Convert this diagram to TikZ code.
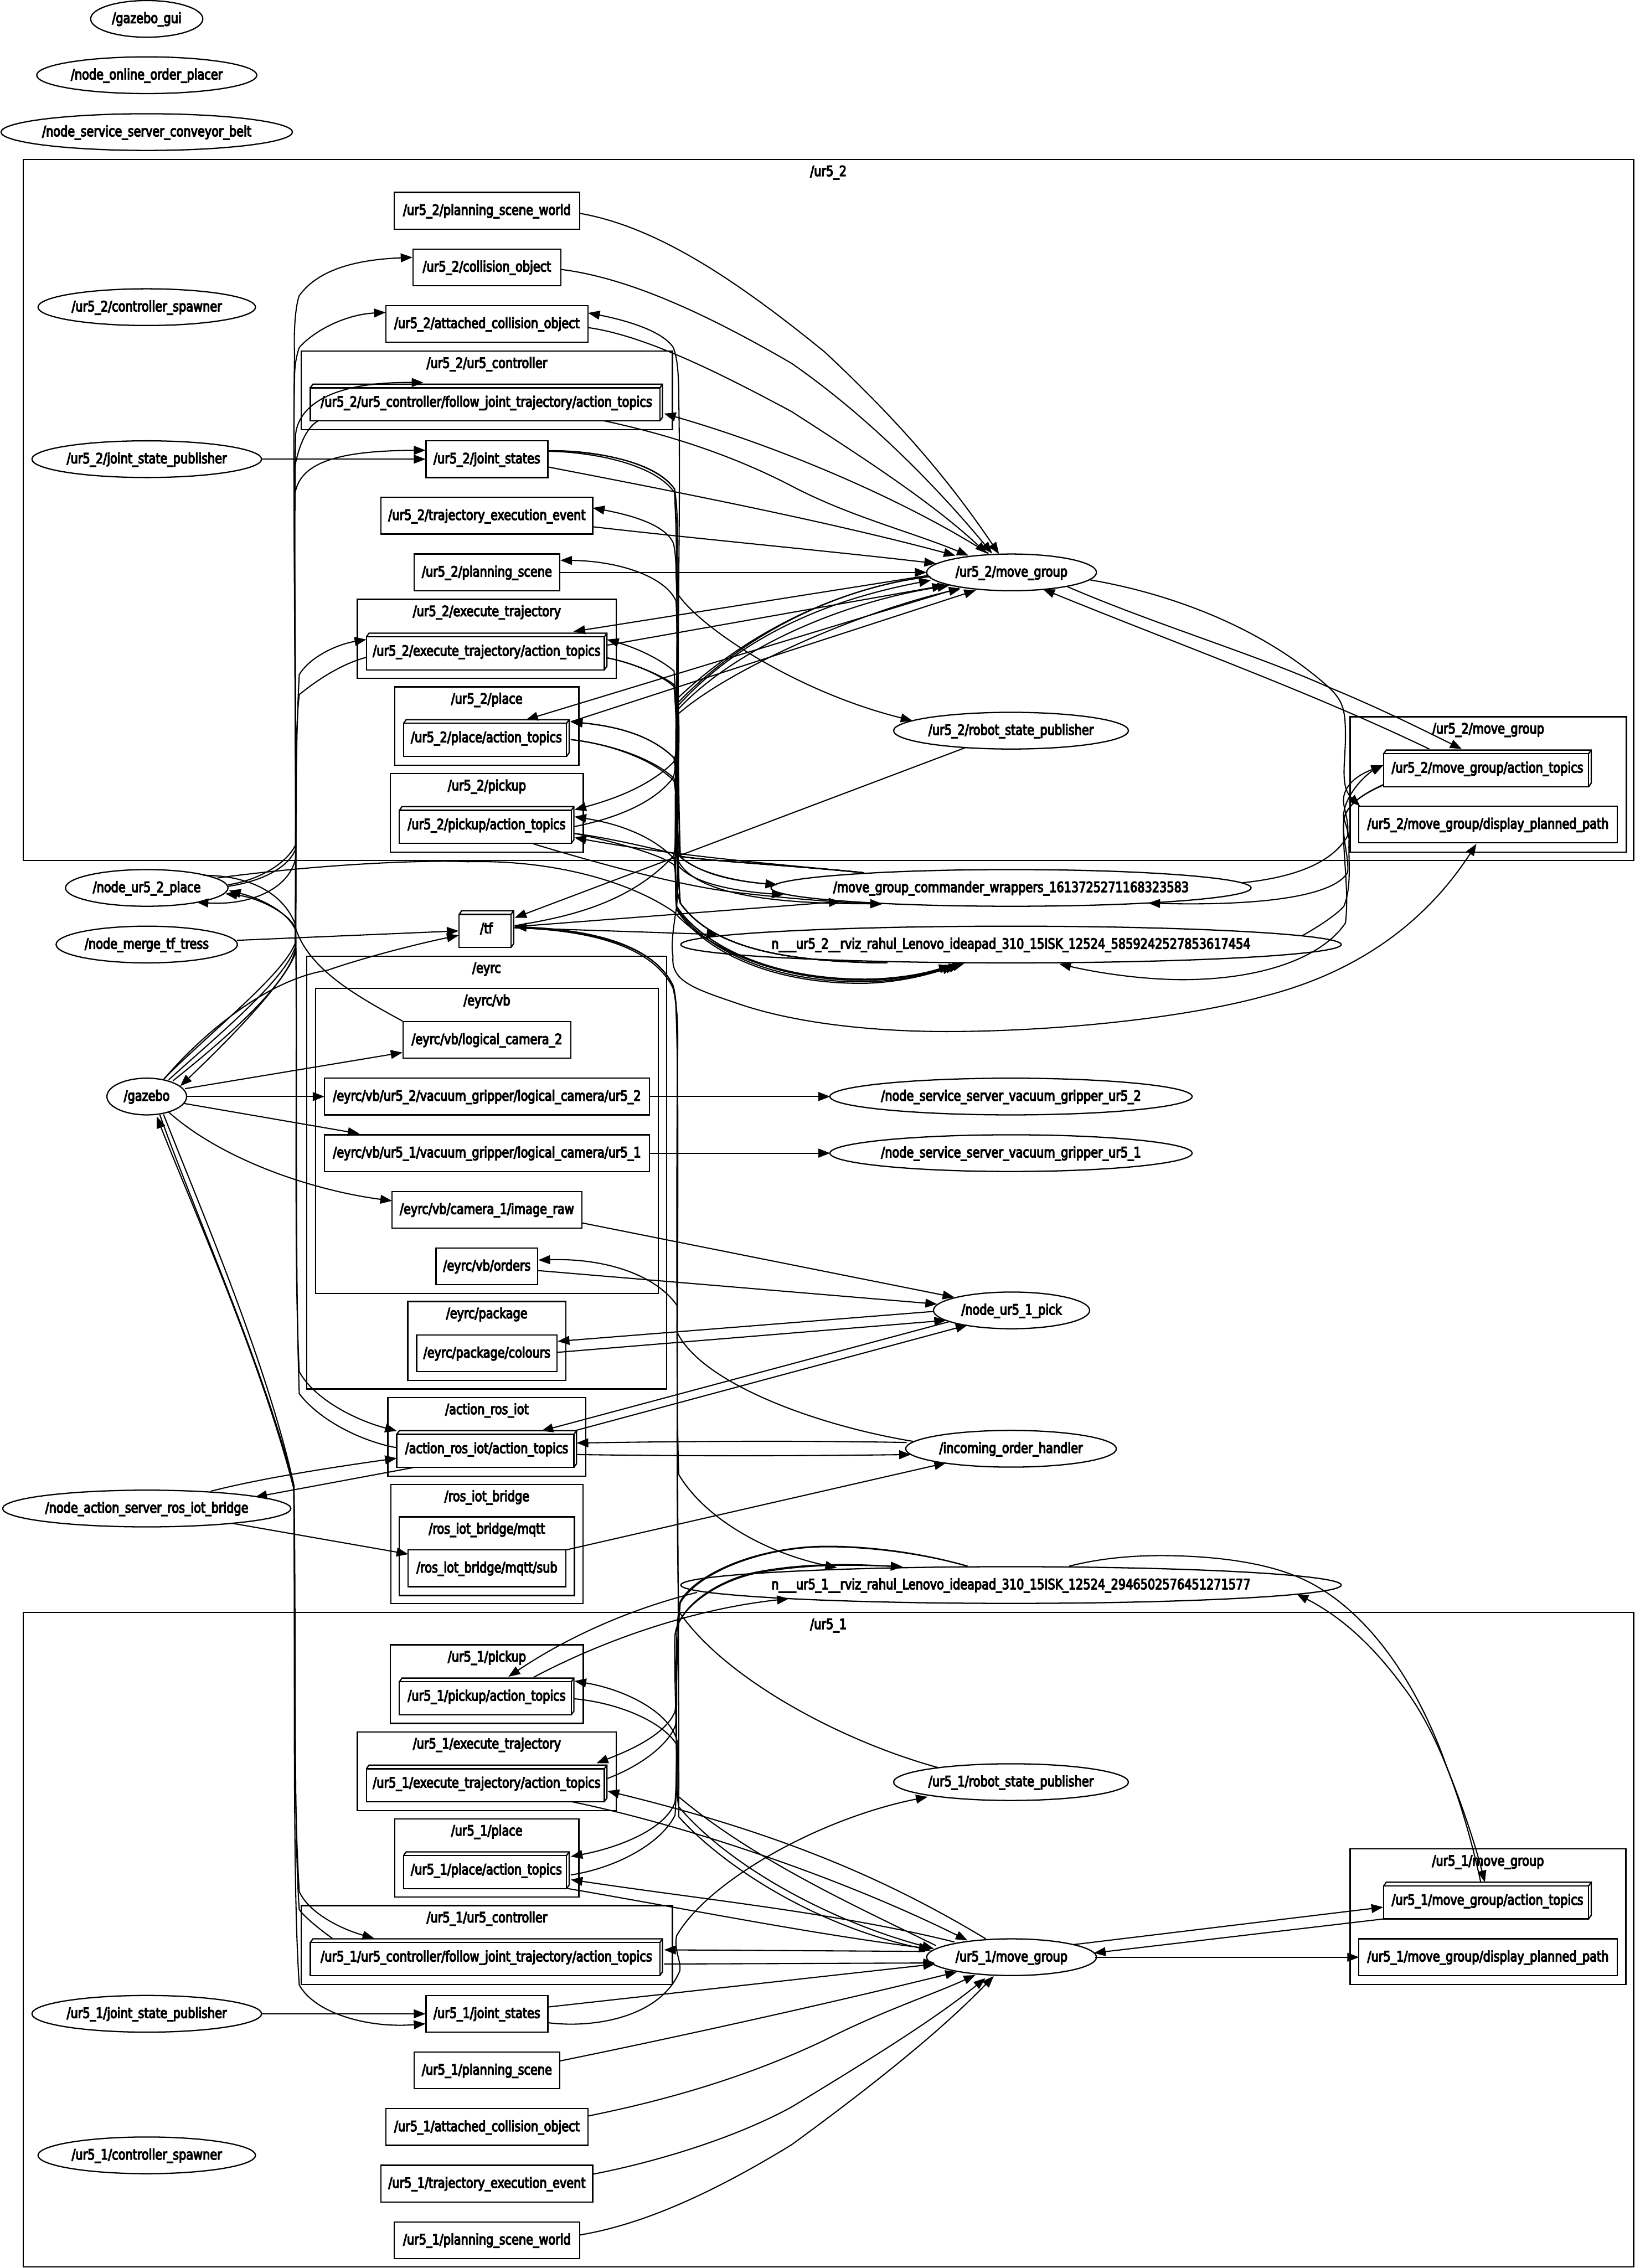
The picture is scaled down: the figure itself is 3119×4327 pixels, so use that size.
\documentclass[tikz,border=0pt]{standalone}
\usepackage{fontspec}
\setmainfont[FakeStretch=0.81,FakeBold=5]{DejaVu Sans}
\usetikzlibrary{arrows.meta,shapes.geometric}
\tikzset{
 x=0.25pt,y=-0.25pt,
 nl/.style={draw,line width=0.6pt},
 lbl/.style={inner sep=0pt,outer sep=0pt,font=\fontsize{6.8}{8}\selectfont,text height=6pt,text depth=2pt},
 elp/.style={lbl,nl,ellipse,minimum height=17.5pt},
 rct/.style={lbl,nl,rectangle,minimum height=17.5pt},
 bxn/.style={lbl,rectangle,minimum height=17.5pt},
 clu/.style={nl,rectangle,inner sep=0pt,outer sep=0pt},
 edg/.style={line width=0.55pt,-{Triangle[length=5.6pt,width=4.2pt]}}
}
\newcommand\RegN[3]{\expandafter\gdef\csname cX#1\endcsname{#2}\expandafter\gdef\csname cY#1\endcsname{#3}}
\newcommand\El[5]{\RegN{#1}{#2}{#3}\node[elp,minimum width={2*#4*0.25pt}] (#1) at (#2,#3) {\makebox[0pt]{#5}};}
\newcommand\Rc[5]{\RegN{#1}{#2}{#3}\node[rct,minimum width={#4*0.25pt}] (#1) at (#2,#3) {\makebox[0pt]{#5}};}
\newcommand\Bx[5]{\RegN{#1}{#2}{#3}\node[bxn,minimum width={#4*0.25pt}] (#1) at (#2,#3) {\makebox[0pt]{#5}};
 \draw[nl] ([shift={(0,7)}]#1.north west) rectangle ([shift={(-5,0)}]#1.south east);
 \draw[nl] ([shift={(0,7)}]#1.north west) -- ([shift={(5,0)}]#1.north west) -- (#1.north east) -- ([shift={(0,-7)}]#1.south east) -- ([shift={(-5,0)}]#1.south east);
 \draw[nl] (#1.north east) -- ([shift={(-5,7)}]#1.north east);}
\newcommand\Cl[6]{\node[clu,minimum width={(#4-#2)*0.25pt},minimum height={(#5-#3)*0.25pt}] (#1) at ({(#2+#4)/2},{(#3+#5)/2}) {};
 \node[lbl] (#1t) at ({(#2+#4)/2},{#3+24}) {\makebox[0pt]{#6}};}
\newcommand\Ed[7]{\begingroup
 \edef\ax{\csname cX#1\endcsname}\edef\ay{\csname cY#1\endcsname}%
 \edef\bx{\csname cX#5\endcsname}\edef\by{\csname cY#5\endcsname}%
 \draw[edg] ([shift={(#2-\ax,#3-\ay)}]#1.center) #4 ([shift={(#6-\bx,#7-\by)}]#5.center);\endgroup}
\begin{document}
\begin{tikzpicture}
\useasboundingbox (0,0) rectangle (3119,4327);
% clusters
\Cl{cb}{44}{304}{3117}{1642}{/ur5\_2}
\Cl{cbctl}{575}{670}{1283}{820}{/ur5\_2/ur5\_controller}
\Cl{cbex}{682}{1143.5}{1176}{1294}{/ur5\_2/execute\_trajectory}
\Cl{cbpl}{753}{1310.5}{1104.5}{1460}{/ur5\_2/place}
\Cl{cbpk}{745}{1476}{1113}{1626}{/ur5\_2/pickup}
\Cl{cbmg}{2576}{1367.5}{3103}{1626}{/ur5\_2/move\_group}
\Cl{ceyrc}{585}{1824}{1272}{2650}{/eyrc}
\Cl{cvb}{602}{1886}{1256}{2468}{/eyrc/vb}
\Cl{cpkg}{778}{2483}{1079.5}{2633.5}{/eyrc/package}
\Cl{cact}{740}{2666}{1118}{2816.5}{/action\_ros\_iot}
\Cl{crib}{745.5}{2832}{1112.5}{3059}{/ros\_iot\_bridge}
\Cl{cmq}{762}{2894}{1096}{3044}{/ros\_iot\_bridge/mqtt}
\Cl{ca}{44}{3076}{3117}{4325}{/ur5\_1}
\Cl{capk}{745}{3138}{1113}{3288}{/ur5\_1/pickup}
\Cl{caex}{682}{3304}{1176}{3454}{/ur5\_1/execute\_trajectory}
\Cl{capl}{753}{3470}{1104.5}{3619.5}{/ur5\_1/place}
\Cl{cactl}{575}{3635.5}{1283}{3786}{/ur5\_1/ur5\_controller}
\Cl{camg}{2576}{3527.5}{3102}{3786}{/ur5\_1/move\_group}
% left column
\El{gui}{280}{36}{107}{/gazebo\_gui}
\El{placer}{280}{143.5}{210}{/node\_online\_order\_placer}
\El{belt}{280}{252}{278}{/node\_service\_server\_conveyor\_belt}
\El{spawnb}{280}{586}{207.5}{/ur5\_2/controller\_spawner}
\El{jspb}{280}{876}{219}{/ur5\_2/joint\_state\_publisher}
\El{place}{280}{1694}{155}{/node\_ur5\_2\_place}
\El{merge}{280}{1802}{173}{/node\_merge\_tf\_tress}
\El{gz}{280}{2092}{76}{/gazebo}
\El{server}{280}{2878}{275}{/node\_action\_server\_ros\_iot\_bridge}
\El{jspa}{280}{3842}{219}{/ur5\_1/joint\_state\_publisher}
\El{spawna}{280}{4112}{207.5}{/ur5\_1/controller\_spawner}
% topics ur5_2
\Rc{pswb}{929}{402}{354}{/ur5\_2/planning\_scene\_world}
\Rc{colb}{929}{510}{282.5}{/ur5\_2/collision\_object}
\Rc{attb}{929}{618}{386}{/ur5\_2/attached\_collision\_object}
\Bx{folb}{928}{768}{672}{/ur5\_2/ur5\_controller/follow\_joint\_trajectory/action\_topics}
\Rc{jsb}{929}{876}{232.5}{/ur5\_2/joint\_states}
\Rc{teeb}{929}{984}{404}{/ur5\_2/trajectory\_execution\_event}
\Rc{psb}{929}{1092}{278}{/ur5\_2/planning\_scene}
\Bx{exb}{928.5}{1243}{459}{/ur5\_2/execute\_trajectory/action\_topics}
\Bx{plb}{928}{1408}{316}{/ur5\_2/place/action\_topics}
\Bx{pkb}{928.5}{1574}{333}{/ur5\_2/pickup/action\_topics}
\Bx{tf}{928}{1772.5}{104}{/tf}
% eyrc
\Rc{lcc}{929}{1984}{320}{/eyrc/vb/logical\_camera\_2}
\Rc{lub}{929}{2092}{620}{/eyrc/vb/ur5\_2/vacuum\_gripper/logical\_camera/ur5\_2}
\Rc{lua}{929}{2200}{620}{/eyrc/vb/ur5\_1/vacuum\_gripper/logical\_camera/ur5\_1}
\Rc{cam}{929}{2308}{362}{/eyrc/vb/camera\_1/image\_raw}
\Rc{orders}{929}{2416}{194}{/eyrc/vb/orders}
\Rc{colours}{929}{2582}{268}{/eyrc/package/colours}
\Bx{act}{928.5}{2764.5}{343}{/action\_ros\_iot/action\_topics}
\Rc{sub}{929}{2992}{301}{/ros\_iot\_bridge/mqtt/sub}
% topics ur5_1
\Bx{pka}{928.5}{3236.5}{333}{/ur5\_1/pickup/action\_topics}
\Bx{exa}{928.5}{3402.5}{459}{/ur5\_1/execute\_trajectory/action\_topics}
\Bx{pla}{928}{3568}{316}{/ur5\_1/place/action\_topics}
\Bx{fola}{928}{3734}{672}{/ur5\_1/ur5\_controller/follow\_joint\_trajectory/action\_topics}
\Rc{jsa}{929}{3842}{232.5}{/ur5\_1/joint\_states}
\Rc{psa}{929}{3950}{278}{/ur5\_1/planning\_scene}
\Rc{atta}{929}{4058}{386}{/ur5\_1/attached\_collision\_object}
\Rc{teea}{929}{4166}{404}{/ur5\_1/trajectory\_execution\_event}
\Rc{pswa}{929}{4274}{354}{/ur5\_1/planning\_scene\_world}
% right nodes
\El{mgb}{1930}{1092}{162}{/ur5\_2/move\_group}
\El{rspb}{1929}{1394}{224}{/ur5\_2/robot\_state\_publisher}
\El{wrap}{1929}{1694}{458}{/move\_group\_commander\_wrappers\_1613725271168323583}
\El{rvizb}{1929}{1802}{630}{n\_\_\_ur5\_2\_\_rviz\_rahul\_Lenovo\_ideapad\_310\_15ISK\_12524\_5859242527853617454}
\El{vacb}{1929}{2092}{345.5}{/node\_service\_server\_vacuum\_gripper\_ur5\_2}
\El{vaca}{1929}{2200}{345.5}{/node\_service\_server\_vacuum\_gripper\_ur5\_1}
\El{pick}{1930}{2500}{149}{/node\_ur5\_1\_pick}
\El{handler}{1929}{2764}{201}{/incoming\_order\_handler}
\El{rviza}{1929}{3024}{630}{n\_\_\_ur5\_1\_\_rviz\_rahul\_Lenovo\_ideapad\_310\_15ISK\_12524\_2946502576451271577}
\El{rspa}{1929}{3400}{224}{/ur5\_1/robot\_state\_publisher}
\El{mga}{1930}{3734}{162}{/ur5\_1/move\_group}
\Bx{mgab}{2838}{1466}{396}{/ur5\_2/move\_group/action\_topics}
\Rc{dppb}{2839}{1573}{494}{/ur5\_2/move\_group/display\_planned\_path}
\Bx{mgaa}{2838}{3626}{396}{/ur5\_1/move\_group/action\_topics}
\Rc{dppa}{2839}{3734}{493}{/ur5\_1/move\_group/display\_planned\_path}
% --- edges into mg ur5_2
\Ed{pswb}{1106}{407}{.. controls (1250,432) and (1400,530) .. (1574,672) .. controls (1700,790) and (1800,900) ..}{mgb}{1906}{1057}
\Ed{colb}{1070}{514}{.. controls (1200,530) and (1350,600) .. (1510,693) .. controls (1650,790) and (1780,920) ..}{mgb}{1893}{1056}
\Ed{attb}{1122}{625}{.. controls (1230,640) and (1370,710) .. (1510,785) .. controls (1650,875) and (1780,960) ..}{mgb}{1883}{1056}
\Ed{folb}{1153}{803}{.. controls (1280,830) and (1400,870) .. (1510,927) .. controls (1620,985) and (1740,1015) ..}{mgb}{1848}{1060}
\Ed{mgb}{1886}{1056}{.. controls (1720,950) and (1480,850) ..}{folb}{1267}{789}
\Ed{jsb}{1046}{891}{.. controls (1300,940) and (1580,995) ..}{mgb}{1823}{1060}
\Ed{teeb}{1131}{1005}{.. controls (1350,1030) and (1570,1050) ..}{mgb}{1786}{1075}
\Ed{psb}{1068}{1092}{--}{mgb}{1768}{1092}
\Ed{mgb}{1770}{1098}{--}{exb}{1094}{1205}
\Ed{exb}{1158}{1231}{--}{mgb}{1801}{1117}
\Ed{mgb}{1830}{1122}{--}{plb}{1004}{1373}
\Ed{plb}{1089}{1377}{--}{mgb}{1862}{1126}
% fan arcs
\Ed{mgb}{1775}{1100}{.. controls (1600,1120) and (1420,1210) .. (1294,1340) .. controls (1285,1390) and (1295,1420) .. (1286,1453) .. controls (1240,1500) and (1170,1525) ..}{pkb}{1096}{1545}
\Ed{pkb}{1096}{1577}{.. controls (1180,1560) and (1250,1530) .. (1285,1483) .. controls (1295,1440) and (1285,1390) .. (1294,1346) .. controls (1400,1230) and (1550,1150) ..}{mgb}{1776}{1107}
\Ed{wrap}{1648}{1665}{.. controls (1500,1650) and (1380,1645) .. (1298,1634) .. controls (1285,1560) and (1300,1430) .. (1294,1353) .. controls (1400,1240) and (1600,1150) ..}{mgb}{1811}{1117}
\Ed{tf}{982}{1766}{.. controls (1080,1750) and (1200,1725) .. (1285,1633) .. controls (1300,1560) and (1285,1450) .. (1294,1362) .. controls (1400,1270) and (1650,1165) ..}{mgb}{1833}{1123}
\Ed{mgb}{1775}{1100}{.. controls (1600,1120) and (1420,1210) .. (1291,1334) .. controls (1285,1500) and (1298,1650) .. (1291,1729) .. controls (1285,1770) and (1280,1800) .. (1284,1825) .. controls (1280,1870) and (1320,1885) .. (1400,1912) .. controls (1520,1955) and (1680,1968) .. (1805,1968) .. controls (2000,1968) and (2250,1945) .. (2414,1900) .. controls (2590,1855) and (2720,1760) ..}{dppb}{2817}{1610}
% wrappers / rviz to topics
\Ed{wrap}{1648}{1665}{.. controls (1500,1650) and (1300,1635) ..}{pkb}{1096}{1598}
\Ed{wrap}{1648}{1665}{.. controls (1500,1650) and (1380,1645) .. (1298,1634) .. controls (1288,1300) and (1300,1000) .. (1295,759) .. controls (1295,710) and (1292,680) .. (1284,662) .. controls (1262,630) and (1190,610) ..}{attb}{1122}{597}
\Ed{wrap}{1648}{1665}{.. controls (1500,1650) and (1380,1645) .. (1298,1634) .. controls (1288,1400) and (1295,1200) .. (1290,1100) .. controls (1290,1070) and (1288,1050) .. (1285,1037) .. controls (1270,1000) and (1200,982) ..}{teeb}{1131}{969}
\Ed{rvizb}{1693}{1837}{.. controls (1500,1835) and (1360,1810) .. (1298,1723) .. controls (1288,1600) and (1296,1300) .. (1290,1147) .. controls (1270,1100) and (1180,1070) ..}{psb}{1069}{1069}
\Ed{rvizb}{1693}{1837}{.. controls (1500,1835) and (1360,1810) .. (1298,1723) .. controls (1290,1700) and (1290,1670) .. (1286,1638) .. controls (1240,1590) and (1170,1570) ..}{pkb}{1096}{1558}
\Ed{rvizb}{1693}{1837}{.. controls (1500,1835) and (1360,1810) .. (1298,1723) .. controls (1288,1600) and (1296,1400) .. (1286,1280) .. controls (1250,1250) and (1200,1232) ..}{exb}{1158}{1220}
\Ed{rvizb}{1693}{1837}{.. controls (1500,1835) and (1360,1810) .. (1298,1723) .. controls (1288,1620) and (1296,1520) .. (1286,1446) .. controls (1240,1400) and (1170,1385) ..}{plb}{1089}{1377}
\Ed{wrap}{1648}{1665}{.. controls (1500,1650) and (1380,1645) .. (1298,1634) .. controls (1288,1570) and (1296,1510) .. (1286,1446) .. controls (1240,1400) and (1170,1385) ..}{plb}{1089}{1377}
% topics to wrappers / rviz
\Ed{jsb}{1046}{860}{.. controls (1130,858) and (1250,880) .. (1287,933) .. controls (1298,1000) and (1288,1080) .. (1295,1136) .. controls (1340,1200) and (1520,1320) ..}{rspb}{1741}{1375}
\Ed{jsb}{1046}{860}{.. controls (1130,860) and (1250,878) .. (1287,933) .. controls (1298,1100) and (1285,1500) .. (1293,1640) .. controls (1320,1700) and (1450,1725) ..}{wrap}{1683}{1724}
\Ed{jsb}{1046}{861}{.. controls (1130,862) and (1250,885) .. (1287,940) .. controls (1300,1200) and (1282,1500) .. (1291,1729) .. controls (1330,1790) and (1450,1870) .. (1650,1870) .. controls (1720,1870) and (1780,1855) ..}{rvizb}{1833}{1841}
\Ed{exb}{1158}{1255}{.. controls (1210,1265) and (1265,1290) .. (1286,1306) .. controls (1298,1400) and (1288,1550) .. (1293,1630) .. controls (1320,1660) and (1390,1680) ..}{wrap}{1483}{1688}
\Ed{exb}{1158}{1255}{.. controls (1210,1265) and (1265,1290) .. (1286,1310) .. controls (1298,1450) and (1282,1600) .. (1291,1732) .. controls (1330,1795) and (1450,1875) .. (1650,1873) .. controls (1720,1872) and (1775,1858) ..}{rvizb}{1826}{1842}
\Ed{plb}{1089}{1411}{.. controls (1170,1420) and (1250,1450) .. (1286,1485) .. controls (1298,1540) and (1288,1600) .. (1293,1650) .. controls (1320,1685) and (1400,1700) ..}{wrap}{1495}{1707}
\Ed{plb}{1089}{1411}{.. controls (1170,1420) and (1250,1452) .. (1286,1490) .. controls (1298,1560) and (1284,1650) .. (1291,1735) .. controls (1330,1800) and (1450,1878) .. (1650,1876) .. controls (1720,1874) and (1775,1858) ..}{rvizb}{1820}{1843}
\Ed{pkb}{1096}{1590}{.. controls (1170,1600) and (1250,1620) .. (1293,1630) .. controls (1330,1665) and (1390,1680) ..}{wrap}{1483}{1688}
\Ed{pkb}{1018}{1610}{.. controls (1150,1650) and (1300,1690) .. (1400,1702) .. controls (1480,1712) and (1600,1722) ..}{wrap}{1683}{1725}
\Ed{pkb}{1096}{1590}{.. controls (1170,1605) and (1260,1630) .. (1286,1650) .. controls (1294,1680) and (1286,1710) .. (1291,1729) .. controls (1330,1790) and (1450,1868) .. (1650,1868) .. controls (1720,1868) and (1790,1852) ..}{rvizb}{1840}{1838}
\Ed{place}{415}{1675}{.. controls (600,1650) and (800,1640) .. (893,1644) .. controls (1050,1640) and (1200,1680) .. (1286,1740) .. controls (1340,1800) and (1470,1872) .. (1650,1870) .. controls (1720,1868) and (1770,1855) ..}{rvizb}{1814}{1842}
% tf
\Ed{merge}{452}{1794}{--}{tf}{875}{1776}
\Ed{gz}{312}{2060}{.. controls (370,1990) and (500,1870) .. (625,1851) .. controls (700,1825) and (800,1800) ..}{tf}{875}{1784.5}
\Ed{tf}{982}{1768}{--}{wrap}{1604}{1720}
\Ed{tf}{982}{1770}{--}{rvizb}{1371}{1783}
\Ed{rspb}{1843}{1426}{--}{tf}{982}{1751}
\Ed{rspa}{1789}{3372}{.. controls (1600,3320) and (1380,3200) .. (1295,3074) .. controls (1288,2800) and (1296,2300) .. (1292,2000) .. controls (1290,1930) and (1290,1900) .. (1284,1880) .. controls (1250,1810) and (1150,1775) ..}{tf}{982}{1768}
\Ed{tf}{982}{1770}{.. controls (1150,1775) and (1250,1810) .. (1284,1880) .. controls (1290,1900) and (1292,1930) .. (1292,2000) .. controls (1296,2300) and (1288,2600) .. (1295,2813) .. controls (1340,2890) and (1450,2960) ..}{rviza}{1597}{2991}
\Ed{tf}{982}{1770}{.. controls (1150,1775) and (1250,1815) .. (1284,1885) .. controls (1290,1910) and (1294,1940) .. (1293,2000) .. controls (1288,2400) and (1296,3100) .. (1295,3466) .. controls (1370,3550) and (1540,3670) ..}{mga}{1776}{3721}
% right of ur5_2 move group
\Ed{mgb}{2036}{1119}{.. controls (2200,1190) and (2400,1250) .. (2535,1311) .. controls (2630,1350) and (2710,1390) ..}{mgab}{2789}{1429}
\Ed{mgab}{2727}{1429}{.. controls (2500,1320) and (2250,1230) ..}{mgb}{1990}{1124}
\Ed{mgb}{2078}{1106}{.. controls (2220,1130) and (2400,1190) .. (2535,1311) .. controls (2560,1335) and (2567,1350) .. (2567,1400) .. controls (2568,1450) and (2555,1500) ..}{dppb}{2595}{1538}
\Ed{wrap}{2371}{1684}{.. controls (2460,1675) and (2540,1650) .. (2571,1595) .. controls (2575,1560) and (2560,1540) .. (2564,1519) .. controls (2570,1490) and (2600,1475) ..}{mgab}{2639}{1460}
\Ed{rvizb}{2485}{1785}{.. controls (2520,1765) and (2550,1745) .. (2564,1729) .. controls (2580,1690) and (2572,1640) .. (2574,1601) .. controls (2570,1570) and (2560,1560) .. (2564,1550) .. controls (2570,1510) and (2610,1475) ..}{mgab}{2639}{1460}
\Ed{mgab}{2639}{1498}{.. controls (2600,1515) and (2570,1535) .. (2564,1563) .. controls (2560,1600) and (2575,1640) .. (2571,1665) .. controls (2540,1715) and (2380,1728) ..}{wrap}{2191}{1723}
\Ed{mgab}{2639}{1497}{.. controls (2600,1515) and (2570,1535) .. (2564,1563) .. controls (2560,1620) and (2575,1700) .. (2567,1761) .. controls (2520,1830) and (2400,1870) .. (2250,1869) .. controls (2170,1868) and (2090,1855) ..}{rvizb}{2021}{1839}
% left corridor upper
\Ed{gz}{313}{2058}{.. controls (400,1970) and (540,1860) .. (563,1800) .. controls (566,1500) and (560,1100) .. (564,829) .. controls (570,770) and (640,728) ..}{folb}{808}{730}
\Ed{folb}{607}{803}{.. controls (585,815) and (570,850) .. (562,893) .. controls (560,1100) and (567,1500) .. (563,1820) .. controls (540,1880) and (430,1990) ..}{gz}{344}{2072}
\Ed{gz}{330}{2062}{.. controls (420,1990) and (550,1880) .. (564,1810) .. controls (566,1500) and (560,1100) .. (562,950) .. controls (566,880) and (650,860) ..}{jsb}{812}{859}
\Ed{gz}{322}{2060}{.. controls (410,1980) and (545,1870) .. (564,1805) .. controls (566,1650) and (562,1450) .. (571,1287) .. controls (590,1255) and (640,1230) ..}{exb}{699}{1220}
\Ed{exb}{699}{1254}{.. controls (640,1270) and (590,1310) .. (571,1325) .. controls (562,1400) and (566,1550) .. (564,1638) .. controls (550,1700) and (470,1728) ..}{place}{375}{1721}
\Ed{place}{435}{1688}{.. controls (490,1680) and (545,1650) .. (564,1612) .. controls (566,1300) and (558,900) .. (562,676) .. controls (560,620) and (565,580) .. (571,564) .. controls (610,510) and (690,495) ..}{colb}{787}{491}
\Ed{place}{435}{1691}{.. controls (490,1683) and (548,1660) .. (564,1620) .. controls (566,1300) and (558,900) .. (562,720) .. controls (562,700) and (565,680) .. (571,663) .. controls (600,630) and (660,600) ..}{attb}{736}{596}
\Ed{place}{388}{1670}{.. controls (470,1670) and (540,1700) .. (564,1765) .. controls (568,2000) and (560,2400) .. (571,2617) .. controls (600,2670) and (680,2710) ..}{act}{757}{2730}
\Ed{act}{757}{2762}{.. controls (690,2750) and (610,2710) .. (571,2659) .. controls (562,2400) and (568,2000) .. (564,1775) .. controls (550,1740) and (500,1715) ..}{place}{437}{1699}
\Ed{lcc}{768}{1948}{.. controls (680,1900) and (590,1850) .. (564,1771) .. controls (550,1740) and (490,1712) ..}{place}{430}{1705}
% gazebo
\Ed{gz}{353}{2077}{--}{lcc}{768}{2008}
\Ed{gz}{355}{2092}{--}{lub}{619}{2092}
\Ed{gz}{350}{2105}{--}{lua}{686}{2163}
\Ed{gz}{321}{2121}{.. controls (420,2210) and (590,2270) ..}{cam}{748}{2291}
\Ed{fola}{634}{3698}{.. controls (595,3670) and (575,3650) .. (571,3643) .. controls (560,3500) and (565,3100) .. (561,2842) .. controls (500,2600) and (370,2310) ..}{gz}{299}{2130}
\Ed{gz}{305}{2127}{.. controls (370,2310) and (500,2600) .. (560,2830) .. controls (564,3100) and (558,3400) .. (571,3609) .. controls (590,3650) and (650,3680) ..}{fola}{714}{3698}
\Ed{gz}{312}{2126}{.. controls (380,2300) and (510,2600) .. (561,2835) .. controls (563,3200) and (558,3600) .. (571,3787) .. controls (600,3840) and (700,3870) ..}{jsa}{812}{3861}
\Ed{jspb}{498}{876}{--}{jsb}{812}{876}
\Ed{jspa}{498}{3842}{--}{jsa}{812}{3842}
% vac and eyrc
\Ed{lub}{1239}{2092}{--}{vacb}{1584}{2092}
\Ed{lua}{1239}{2200}{--}{vaca}{1584}{2200}
\Ed{cam}{1110}{2333}{--}{pick}{1821}{2475}
\Ed{orders}{1026}{2424}{--}{pick}{1788}{2488}
\Ed{pick}{1781}{2502}{--}{colours}{1064}{2559}
\Ed{colours}{1064}{2580}{--}{pick}{1805}{2519}
\Ed{pick}{1813}{2521}{--}{act}{1033}{2730}
\Ed{act}{1095}{2730}{--}{pick}{1846}{2528}
\Ed{handler}{1730}{2752}{.. controls (1500,2748) and (1300,2750) ..}{act}{1100}{2753}
\Ed{act}{1100}{2775}{.. controls (1300,2778) and (1500,2778) ..}{handler}{1738}{2775}
\Ed{sub}{1080}{2957}{--}{handler}{1805}{2791}
\Ed{handler}{1743}{2750}{.. controls (1560,2720) and (1340,2640) .. (1292,2542) .. controls (1291,2525) and (1293,2510) .. (1292,2491) .. controls (1250,2430) and (1150,2400) ..}{orders}{1027}{2404}
\Ed{server}{402}{2845}{.. controls (500,2820) and (630,2800) ..}{act}{757}{2782}
\Ed{act}{788}{2800}{--}{server}{487}{2856}
\Ed{server}{442}{2906}{--}{sub}{779}{2965}
% rviz ur5_1
\Ed{rviza}{1846}{2988}{.. controls (1750,2960) and (1650,2950) .. (1578,2950) .. controls (1450,2950) and (1330,3000) .. (1298,3055) .. controls (1285,3120) and (1295,3200) .. (1288,3265) .. controls (1270,3310) and (1200,3340) ..}{exa}{1138}{3364}
\Ed{rviza}{1846}{2988}{.. controls (1750,2961) and (1650,2951) .. (1578,2951) .. controls (1450,2951) and (1330,3002) .. (1298,3058) .. controls (1285,3200) and (1295,3350) .. (1288,3438) .. controls (1270,3490) and (1180,3525) ..}{pla}{1089}{3542}
\Ed{exa}{1159}{3393}{.. controls (1220,3370) and (1275,3330) .. (1289,3291) .. controls (1295,3220) and (1285,3160) .. (1288,3119) .. controls (1295,3060) and (1380,3010) .. (1450,2998) .. controls (1550,2980) and (1640,2985) ..}{rviza}{1722}{2989}
\Ed{pla}{1089}{3577}{.. controls (1170,3565) and (1260,3520) .. (1288,3463) .. controls (1295,3350) and (1285,3200) .. (1288,3119) .. controls (1295,3062) and (1380,3012) .. (1450,3000) .. controls (1550,2982) and (1640,2986) ..}{rviza}{1722}{2989}
\Ed{rviza}{1330}{3038}{.. controls (1200,3070) and (1080,3125) ..}{pka}{970}{3199}
\Ed{pka}{1018}{3200}{.. controls (1150,3130) and (1320,3070) ..}{rviza}{1505}{3050}
\Ed{rviza}{2040}{2988}{.. controls (2110,2970) and (2180,2967) .. (2234,2968) .. controls (2340,2970) and (2420,2985) .. (2475,3008) .. controls (2600,3060) and (2700,3200) .. (2760,3370) .. controls (2800,3470) and (2820,3540) ..}{mgaa}{2833}{3591}
\Ed{mgaa}{2825}{3590}{.. controls (2790,3430) and (2740,3300) .. (2678,3219) .. controls (2620,3140) and (2560,3085) ..}{rviza}{2474}{3041}
% ur5_1 mg
\Ed{mga}{1881}{3699}{.. controls (1700,3590) and (1500,3500) ..}{exa}{1159}{3417}
\Ed{exa}{1089}{3437}{.. controls (1300,3480) and (1600,3580) ..}{mga}{1846}{3702}
\Ed{mga}{1821}{3705}{.. controls (1600,3650) and (1350,3625) ..}{pla}{1089}{3586}
\Ed{pla}{1083}{3603}{.. controls (1300,3640) and (1550,3690) ..}{mga}{1776}{3718}
\Ed{mga}{1765}{3723}{--}{fola}{1267}{3720}
\Ed{fola}{1267}{3747}{--}{mga}{1784}{3745}
\Ed{mga}{1786}{3712}{.. controls (1640,3640) and (1440,3550) .. (1295,3428) .. controls (1285,3400) and (1295,3350) .. (1292,3322) .. controls (1280,3270) and (1200,3225) ..}{pka}{1096}{3207}
\Ed{pka}{1096}{3241}{.. controls (1190,3250) and (1270,3290) .. (1292,3330) .. controls (1295,3370) and (1288,3410) .. (1295,3447) .. controls (1400,3570) and (1600,3670) ..}{mga}{1782}{3718}
\Ed{jsa}{1046}{3859}{.. controls (1130,3870) and (1260,3850) .. (1297,3760) .. controls (1300,3740) and (1285,3720) .. (1291,3693) .. controls (1350,3590) and (1560,3470) ..}{rspa}{1770}{3428}
\Ed{jsa}{1046}{3829}{--}{mga}{1784}{3747}
\Ed{psa}{1068}{3932}{.. controls (1250,3895) and (1550,3830) ..}{mga}{1826}{3762}
\Ed{atta}{1122}{4037}{.. controls (1230,4015) and (1400,3975) .. (1574,3892) .. controls (1680,3838) and (1780,3805) ..}{mga}{1861}{3768}
\Ed{teea}{1131}{4148}{.. controls (1250,4125) and (1400,4080) .. (1510,4020) .. controls (1650,3935) and (1780,3855) ..}{mga}{1880}{3774}
\Ed{pswa}{1106}{4264}{.. controls (1220,4245) and (1350,4190) .. (1510,4092) .. controls (1650,3990) and (1790,3880) ..}{mga}{1896}{3770}
\Ed{mga}{2048}{3710}{--}{mgaa}{2639}{3638.5}
\Ed{mgaa}{2640}{3661}{--}{mga}{2087}{3726}
\Ed{mga}{2090}{3734}{--}{dppa}{2593}{3734}
\end{tikzpicture}
\end{document}
